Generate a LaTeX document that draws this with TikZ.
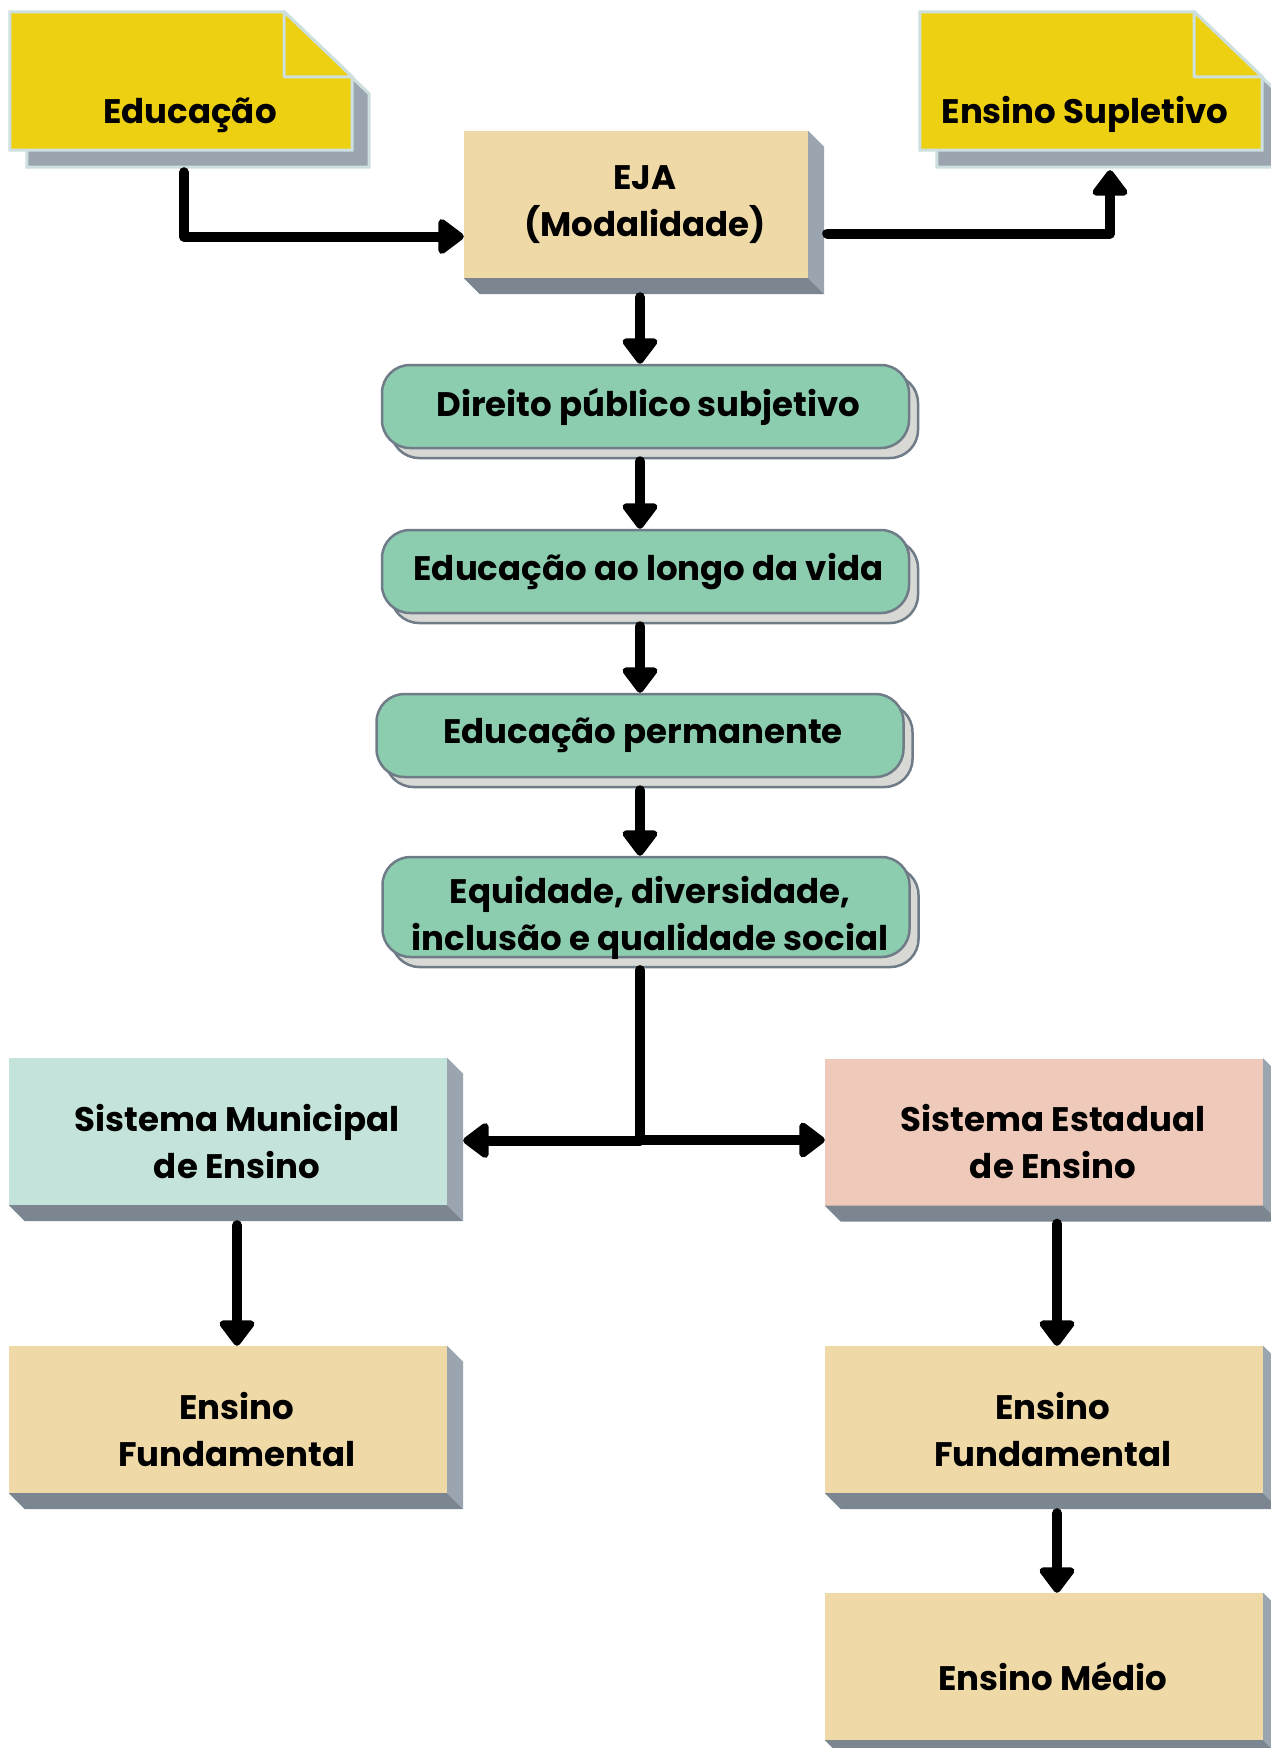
\documentclass[tikz,border=0pt]{standalone}
\usepackage{fontspec}
\setmainfont{Poppins}
\usetikzlibrary{arrows.meta,calc,shadows}

\definecolor{notefill}{HTML}{EDD012}
\definecolor{noteedge}{HTML}{CDDFDF}
\definecolor{sidegray}{HTML}{9AA5B0}
\definecolor{basegray}{HTML}{7B8690}
\definecolor{tanfill}{HTML}{EFD9A7}
\definecolor{greenfill}{HTML}{8CCDAF}
\definecolor{greenedge}{HTML}{6F7C88}
\definecolor{greenshadow}{HTML}{D8D9D4}
\definecolor{munfill}{HTML}{C4E3DA}
\definecolor{estfill}{HTML}{EFC9B9}

% Seitenflaechen eines Blocks
\newcommand{\boxdepth}[1]{%
  \fill[sidegray] (#1.north east) -- ++(16,16) -- ($(#1.south east)+(16,16)$) -- (#1.south east) -- cycle;
  \fill[basegray] (#1.south west) -- ++(16,16) -- ($(#1.south east)+(16,16)$) -- (#1.south east) -- cycle;}

% Zettel mit Eselsohr
\newcommand{\notepaper}[3]{%
  \filldraw[#3] ($(#1.north west)+(#2)$) -- ($(#1.north east)+(-68,0)+(#2)$) -- ($(#1.north east)+(0,65)+(#2)$)
    -- ($(#1.south east)+(#2)$) -- ($(#1.south west)+(#2)$) -- cycle;}
\newcommand{\foldcorner}[1]{%
  \filldraw[fill=notefill, draw=noteedge, line width=3pt, line join=round] ($(#1.north east)+(-68,0)$)
    -- ($(#1.north east)+(-68,65)$) -- ($(#1.north east)+(0,65)$) -- cycle;}

\begin{document}
\begin{tikzpicture}[x=1pt, y=-1pt, font=\bfseries\fontsize{34}{47}\selectfont]
  \path[use as bounding box, fill=white] (0,0) rectangle (1271,1748);
  \clip (0,0) rectangle (1271,1748);

  \tikzstyle{paper}=[rectangle, inner sep=0pt, minimum width=342pt, minimum height=138pt]
  \tikzstyle{block}=[rectangle, inner sep=0pt, minimum width=438pt, minimum height=147pt]
  \tikzstyle{blocktext}=[align=center, xshift=9pt, yshift=-10pt]
  \tikzstyle{pill}=[rectangle, rounded corners=28pt, inner sep=0pt, minimum width=527pt, minimum height=83pt,
    align=center, fill=greenfill, draw=greenedge, line width=2.5pt,
    copy shadow={shadow xshift=9pt, shadow yshift=-10pt, fill=greenshadow}]
  \tikzstyle{arr}=[line width=10pt, line cap=round, line join=round, -{Triangle[width=40pt, length=28pt, round]}]

  % Zettel oben.
  \node[paper] (educ) at (181,81) {};
  \notepaper{educ}{17,17}{fill=sidegray, draw=noteedge, line width=3pt}
  \notepaper{educ}{0,0}{fill=notefill, draw=noteedge, line width=3pt}
  \foldcorner{educ}
  \node (educ-t) at (190,115) {Educação};

  \node[paper] (supl) at (1091,81) {};
  \notepaper{supl}{17,17}{fill=sidegray, draw=noteedge, line width=3pt}
  \notepaper{supl}{0,0}{fill=notefill, draw=noteedge, line width=3pt}
  \foldcorner{supl}
  \node (supl-t) at (1085,114) {Ensino Supletivo};

  % EJA.
  \node[block, fill=tanfill, minimum width=344pt,
    label={[blocktext, yshift=10pt]center:EJA\\(Modalidade)}] (eja) at (636,204.5) {};
  \boxdepth{eja}

  % Grundsaetze.
  \node[pill] (dir) at (645.5,406.5) {\hspace*{6pt}Direito público subjetivo};
  \node[pill] (lon) at (645.5,571.5) {\hspace*{6pt}Educação ao longo da vida};
  \node[pill] (perm) at (640,735.5) {\hspace*{6pt}Educação permanente};
  \node[pill, minimum height=100pt,
    label={[align=center, xshift=4pt, yshift=-11pt]center:Equidade, diversidade,\\inclusão e qualidade social}]
    (eq) at (646,907) {};

  % Systeme.
  \node[block, fill=munfill, label={[blocktext]center:Sistema Municipal\\de Ensino}] (mun) at (228,1131.5) {};
  \node[block, fill=estfill, label={[blocktext]center:Sistema Estadual\\de Ensino}] (est) at (1044,1132) {};
  \node[block, fill=tanfill, label={[blocktext]center:Ensino\\Fundamental}] (fl) at (228,1419.5) {};
  \node[block, fill=tanfill, label={[blocktext]center:Ensino\\Fundamental}] (fr) at (1044,1419.5) {};
  \node[block, fill=tanfill, label={[blocktext]center:Ensino Médio}] (med) at (1044,1666.5) {};
  \boxdepth{mun}
  \boxdepth{est}
  \boxdepth{fl}
  \boxdepth{fr}
  \boxdepth{med}

  % Pfeile.
  \coordinate (axis) at (640,0);
  \draw[arr] ($(educ.south west)+(174,22)$) |- ($(eja.west)+(0,32)$);
  \draw[arr] ($(eja.east)+(19,29)$) -| ($(supl.south)+(19,20)$);
  \draw[arr] (eja.south -| axis) ++(0,19) -- (dir.north -| axis);
  \draw[arr] (dir.south -| axis) ++(0,12) -- (lon.north -| axis);
  \draw[arr] (lon.south -| axis) ++(0,12) -- (perm.north -| axis);
  \draw[arr] (perm.south -| axis) ++(0,12) -- (eq.north -| axis);
  \draw[arr] (eq.south -| axis) ++(0,12) |- ($(mun.east)+(16,9)$);
  \draw[arr] (eq.south -| axis) ++(0,12) |- ($(est.west)+(0,8)$);
  \draw[arr] ($(mun.south)+(9,20)$) -- ($(fl.north)+(9,0)$);
  \draw[arr] ($(est.south)+(13,18)$) -- ($(fr.north)+(13,0)$);
  \draw[arr] ($(fr.south)+(13,20)$) -- ($(med.north)+(13,0)$);
\end{tikzpicture}
\end{document}
